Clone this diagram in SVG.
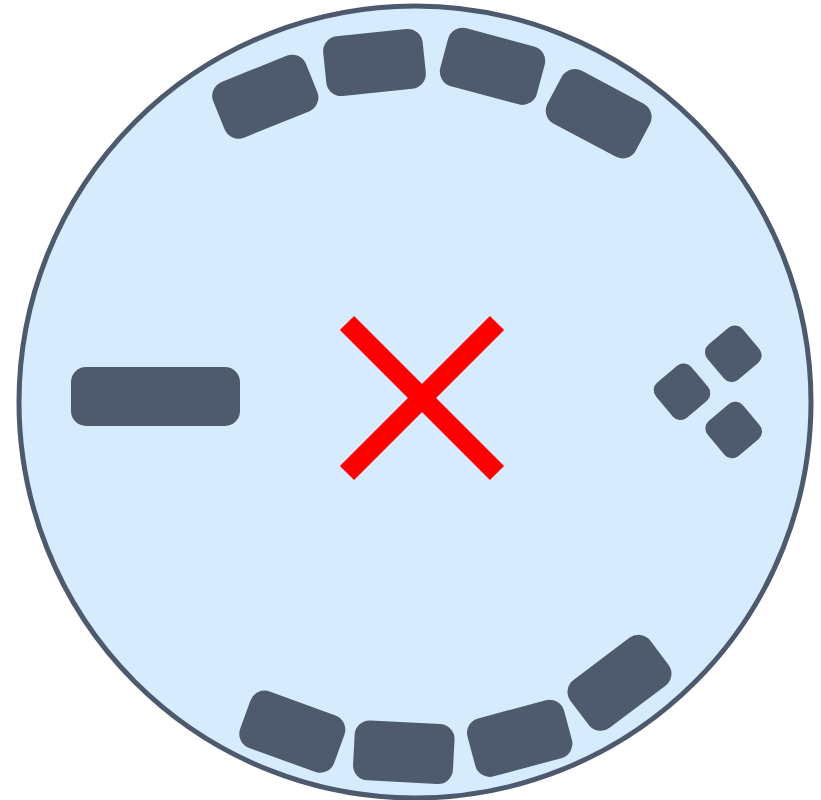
<svg xmlns="http://www.w3.org/2000/svg" width="821" height="800" viewBox="0 0 821 800">
  <style>
    .table { fill: #d6ebfe; stroke: #4d5a6e; stroke-width: 5; }
    .chair { fill: #4e5a6e; }
    .mark { stroke: #ff0000; stroke-width: 20; stroke-linecap: butt; fill: none; }
  </style>
  <defs>
    <rect id="chairShape" x="-50" y="-30" width="100" height="60" rx="15" ry="15"/>
    <rect id="stoolShape" x="-23" y="-23" width="46" height="46" rx="10" ry="10"/>
  </defs>
  <rect width="821" height="800" fill="#ffffff"/>
  <g id="table">
    <circle class="table" cx="415" cy="402" r="396"/>
  </g>
  <g id="chair-top-1"><use href="#chairShape" class="chair" transform="translate(265.3,96.7) rotate(-22)"/></g>
  <g id="chair-top-2"><use href="#chairShape" class="chair" transform="translate(374.5,62.5) rotate(-6)"/></g>
  <g id="chair-top-3"><use href="#chairShape" class="chair" transform="translate(492.5,66.3) rotate(15)"/></g>
  <g id="chair-top-4"><use href="#chairShape" class="chair" transform="translate(598.7,113.7) rotate(28)"/></g>
  <g id="chair-bottom-1"><use href="#chairShape" class="chair" transform="translate(292.3,731.7) rotate(20)"/></g>
  <g id="chair-bottom-2"><use href="#chairShape" class="chair" transform="translate(403.8,752.2) rotate(3)"/></g>
  <g id="chair-bottom-3"><use href="#chairShape" class="chair" transform="translate(519.7,738.3) rotate(-15)"/></g>
  <g id="chair-bottom-4"><use href="#chairShape" class="chair" transform="translate(619.5,682.8) rotate(-37)"/></g>
  <g id="bench-left"><rect class="chair" x="71" y="367" width="169" height="59" rx="15" ry="15"/></g>
  <g id="stool-1"><use href="#stoolShape" class="chair" transform="translate(733.3,353.8) rotate(50)"/></g>
  <g id="stool-2"><use href="#stoolShape" class="chair" transform="translate(682,391.7) rotate(50)"/></g>
  <g id="stool-3"><use href="#stoolShape" class="chair" transform="translate(733.7,430) rotate(50)"/></g>
  <g id="center-mark">
    <line class="mark" x1="347" y1="323" x2="497" y2="473"/>
    <line class="mark" x1="497" y1="323" x2="347" y2="473"/>
  </g>
</svg>
